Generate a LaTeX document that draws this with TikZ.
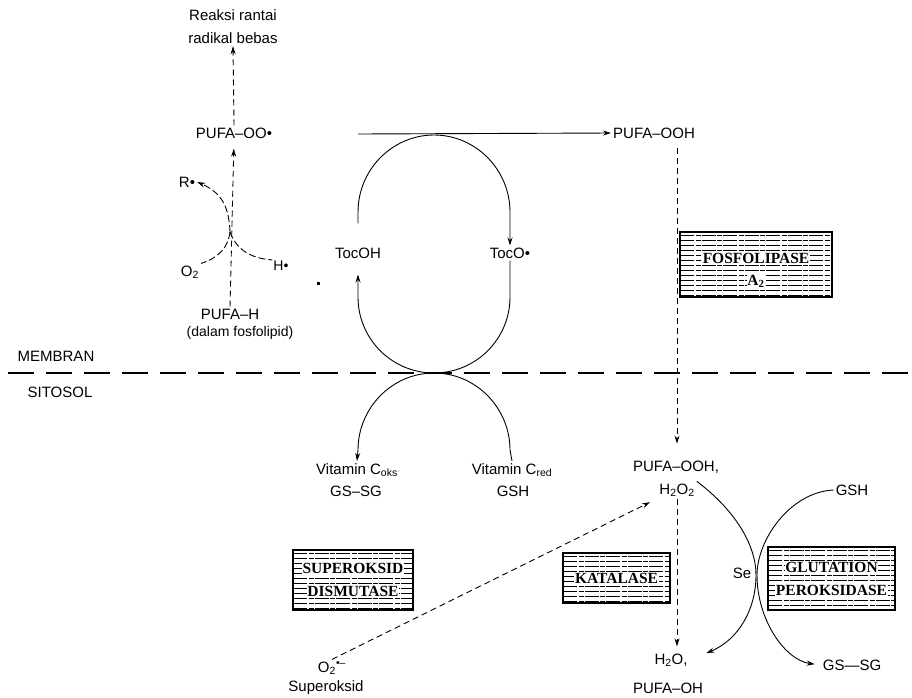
\documentclass[tikz,border=0pt]{standalone}
\usepackage{fontspec}
\setmainfont{Liberation Sans}
\newfontfamily\enzfont{Liberation Serif}
\usetikzlibrary{arrows.meta}
\begin{document}
\begin{tikzpicture}[x=1pt,y=-1pt,
  lbl/.style={font=\fontsize{15}{18}\selectfont, inner sep=2pt},
  sml/.style={font=\fontsize{14}{16}\selectfont, inner sep=1pt},
  ln/.style={line width=0.9pt},
  arr/.style={ln, -{Stealth[length=8pt,width=5pt]}},
  dsh/.style={dash pattern=on 6pt off 4pt},
  enz/.style={draw, line width=1.4pt, inner sep=0pt,
    path picture={\foreach \k in {3,8,...,83}{\draw[line width=0.8pt, dash pattern=on 14pt off 1.5pt on 5pt off 1pt]
      ([yshift={-\k*1pt}]path picture bounding box.north west) --
      ([yshift={-\k*1pt}]path picture bounding box.north east);}}},
  enztxt/.style={fill=white, inner sep=0.6pt, font=\enzfont\bfseries\fontsize{15.5}{15.5}\selectfont},
  membr/.style={line width=1.8pt, dash pattern=on 26pt off 12pt}
]
\useasboundingbox (0,0) rectangle (912,697);

% ---------- left: radical chain ----------
\node[lbl, align=center, font=\fontsize{15}{23}\selectfont] (reaksi) at (233,27) {Reaksi rantai\\radikal bebas};
\node[lbl] (pufaoo) at (234,133) {PUFA–OO•};
\node[lbl] (r) at (187,182) {R•};
\node[lbl] (o2) at (190,272) {O\textsubscript{2}};
\node[sml] (h) at (281,266) {H•};
\node[lbl] (pufah) at (230,314) {PUFA–H};
\node[sml] (dalam) at (240,333) {(dalam fosfolipid)};
\coordinate (jn) at (230,232);

\draw[arr,dsh] (pufaoo.north) -- (reaksi.south);
\draw[arr,dsh,shorten >=8pt] (pufah.north) -- (pufaoo.south);
\draw[arr,dash pattern=on 7pt off 3pt] (jn) .. controls (229,207) and (222,193) .. (r.east);
\draw[ln,dash pattern=on 7pt off 3pt] (jn) .. controls (228,248) and (218,258) .. (o2.north east);
\draw[ln,dash pattern=on 7pt off 3pt] (jn) .. controls (236,248) and (248,258) .. (h.north west);
\fill (316.5,281.5) rectangle (319.5,284.5);

% ---------- tocopherol cycle ----------
\node[lbl] (tocoh) at (358,253) {TocOH};
\node[lbl] (toco) at (510,253) {TocO•};
\node[lbl] (pufaooh) at (654,133) {PUFA–OOH};
\coordinate (hstart) at (358,134);
\draw[arr] (hstart) -- (pufaooh.west);
\draw[arr, shorten <=22pt] (tocoh.north) -- (358,212) .. controls (358,170) and (392,135) .. (434,135)
   .. controls (476,135) and (510,170) .. (510,212) -- (toco.north);
\draw[arr, shorten >=14pt] (toco.south) -- (510,297) .. controls (510,339) and (476,373) .. (434,373)
   .. controls (392,373) and (358,339) .. (358,297) -- (tocoh.south);

% ---------- membrane ----------
\coordinate (memL) at (8,373);
\coordinate (memR) at (912,373);
\draw[membr] (memL) -- (memR);
\node[lbl] (membran) at (56,356) {MEMBRAN};
\node[lbl] (sitosol) at (60,392) {SITOSOL};

% ---------- vitamin C cycle ----------
\node[lbl] (vcox) at (357,470) {Vitamin C\textsubscript{oks}};
\node[lbl] (vcred) at (512,470) {Vitamin C\textsubscript{red}};
\node[lbl] (gssga) at (356,491) {GS–SG};
\node[lbl] (gsha) at (513,491) {GSH};
\draw[arr] (vcred.north) -- (510,450) .. controls (510,408) and (476,373) .. (434,373)
   .. controls (392,373) and (358,408) .. (358,450) -- (vcox.north);

% ---------- right column ----------
\node[enz, minimum width=152pt, minimum height=65pt] (fosfo) at (756,264.5) {};
\node[enztxt] (fosfoa) at (756,258) {FOSFOLIPASE};
\node[enztxt] (fosfob) at (756,281) {A\textsubscript{2}};
\node[lbl] (pufaoohb) at (676,467) {PUFA–OOH,};
\node[lbl] (h2o2) at (677,490) {H\textsubscript{2}O\textsubscript{2}};
\coordinate (vtop) at (677,148);
\draw[arr,dsh,shorten >=15pt] (vtop) -- (vtop |- pufaoohb.north);

\node[enz, minimum width=120pt, minimum height=60pt] (sod) at (353,580) {};
\node[enztxt] (soda) at (353,568) {SUPEROKSID};
\node[enztxt] (sodb) at (353,591) {DISMUTASE};
\node[enz, minimum width=107pt, minimum height=50pt] (kat) at (616.5,578) {};
\node[enztxt] (kata) at (616.5,578) {KATALASE};
\node[enz, minimum width=127pt, minimum height=63pt] (gpx) at (831.5,578.5) {};
\node[enztxt] (gpxa) at (831.5,567) {GLUTATION};
\node[enztxt] (gpxb) at (831.5,590) {PEROKSIDASE};

\node[lbl] (o2s) at (332,668) {O\textsubscript{2}\textsuperscript{•–}};
\node[lbl] (superoksid) at (326,688) {Superoksid};
\draw[arr,dsh,shorten >=8pt] (o2s.north) -- (h2o2.south west);

\node[lbl] (h2o) at (671,660) {H\textsubscript{2}O,};
\node[lbl] (pufaoh) at (668,688) {PUFA–OH};
\draw[arr,dsh,shorten >=5pt] (h2o2.south) -- (h2o2.south |- h2o.north);

\node[lbl] (gsh) at (852,490) {GSH};
\node[lbl] (gssg) at (852,665) {GS—SG};
\node[lbl] (se) at (742,573) {Se};
\draw[arr, shorten >=18pt] (h2o2.north east) .. controls (735,510) and (756,545) .. (756,575)
   .. controls (756,610) and (738,640) .. (h2o.east);
\draw[arr, shorten >=6pt] (gsh.west) .. controls (790,492) and (757,540) .. (757,575)
   .. controls (757,620) and (785,660) .. (gssg.west);
\end{tikzpicture}
\end{document}
